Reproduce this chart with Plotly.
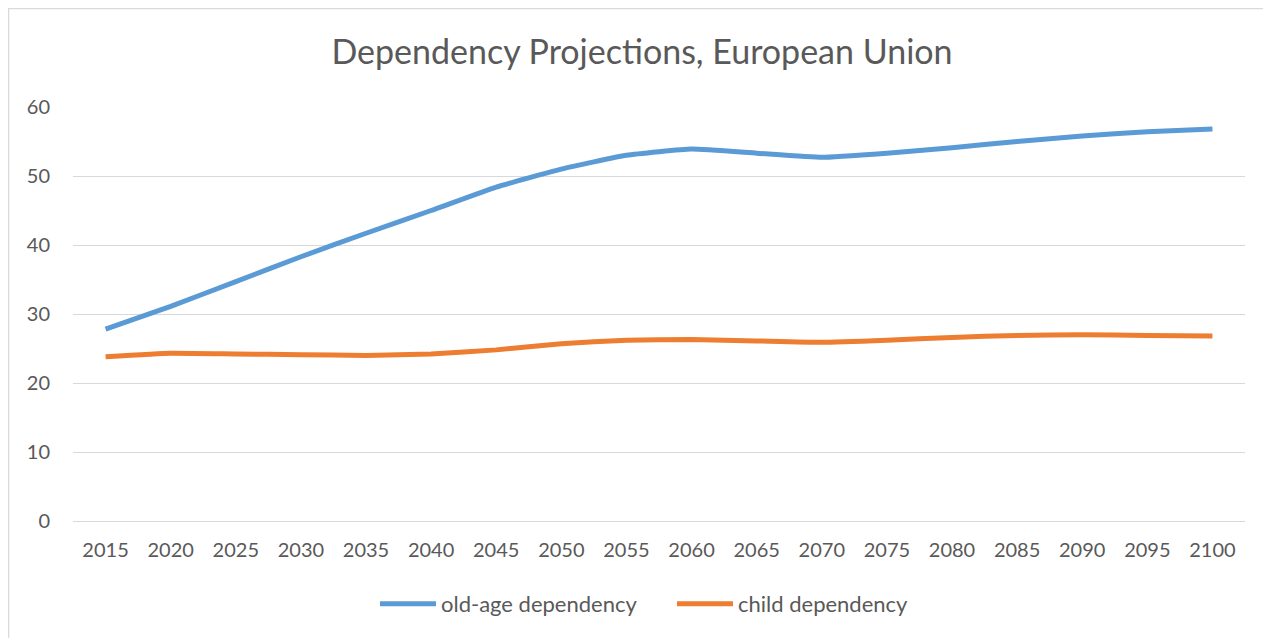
import plotly.graph_objects as go

years = ["2015", "2020", "2025", "2030", "2035", "2040", "2045", "2050", "2055",
         "2060", "2065", "2070", "2075", "2080", "2085", "2090", "2095", "2100"]
old_age = [27.8, 31.1, 34.7, 38.3, 41.7, 45.0, 48.4, 51.0, 53.0,
           53.9, 53.3, 52.7, 53.3, 54.1, 55.0, 55.8, 56.4, 56.8]
child = [23.8, 24.3, 24.2, 24.1, 24.0, 24.2, 24.8, 25.7, 26.2,
         26.3, 26.1, 25.9, 26.2, 26.6, 26.9, 27.0, 26.9, 26.8]

FONT = "Lato"
GREY = "#595959"

fig = go.Figure()
fig.add_trace(go.Scatter(x=years, y=old_age, mode="lines", name="old-age dependency",
                         line=dict(color="#5B9BD5", width=5, shape="spline", smoothing=0.4)))
fig.add_trace(go.Scatter(x=years, y=child, mode="lines", name="child dependency",
                         line=dict(color="#ED7D31", width=5, shape="spline", smoothing=0.4)))

# page body has an 8px margin; work in screen pixels and subtract it
OFF = 8
W, H = 1271 - OFF, 638 - OFF
L, T = 73 - OFF, 107 - OFF
R = W - (1245 - OFF)
B = H - (521 - OFF)
pw, ph = W - L - R, H - T - B

def px_x(x):  # screen x -> paper
    return (x - OFF - L) / pw

def px_y(y):  # screen y -> paper
    return (H - B - (y - OFF)) / ph

fig.update_layout(
    width=W, height=H,
    margin=dict(l=L, r=R, t=T, b=B),
    paper_bgcolor="white", plot_bgcolor="white",
    font=dict(family=FONT, color=GREY, size=20),
    title=dict(text="Dependency Projections, European Union", x=px_x(642), xanchor="center",
               xref="paper",
               y=1 - (52 - OFF) / H, yref="container", yanchor="middle",
               font=dict(family=FONT, size=34, color=GREY)),
    xaxis=dict(type="category", range=[-0.5, 17.5], showgrid=False, zeroline=False,
               showline=False, ticks="", tickfont=dict(size=20, color=GREY),
               ticklabelstandoff=15),
    yaxis=dict(range=[0, 60], dtick=10, showgrid=True, gridcolor="#D9D9D9", gridwidth=1,
               zeroline=True, zerolinecolor="#D9D9D9", zerolinewidth=1, showline=False,
               ticks="", tickfont=dict(size=20, color=GREY), ticklabelstandoff=22),
    showlegend=True,
    legend=dict(orientation="h", x=px_x(375), xanchor="left", y=px_y(604), yanchor="middle",
                font=dict(size=22, color=GREY), itemwidth=56, entrywidth=226,
                entrywidthmode="pixels", bgcolor="rgba(0,0,0,0)"),
    shapes=[dict(type="rect", xref="paper", yref="paper",
                 x0=px_x(8.5), x1=px_x(1290), y0=px_y(660), y1=px_y(8.5),
                 line=dict(color="#D9D9D9", width=1.5), fillcolor="rgba(0,0,0,0)", layer="below")],
)

fig.write_html("out.html")
